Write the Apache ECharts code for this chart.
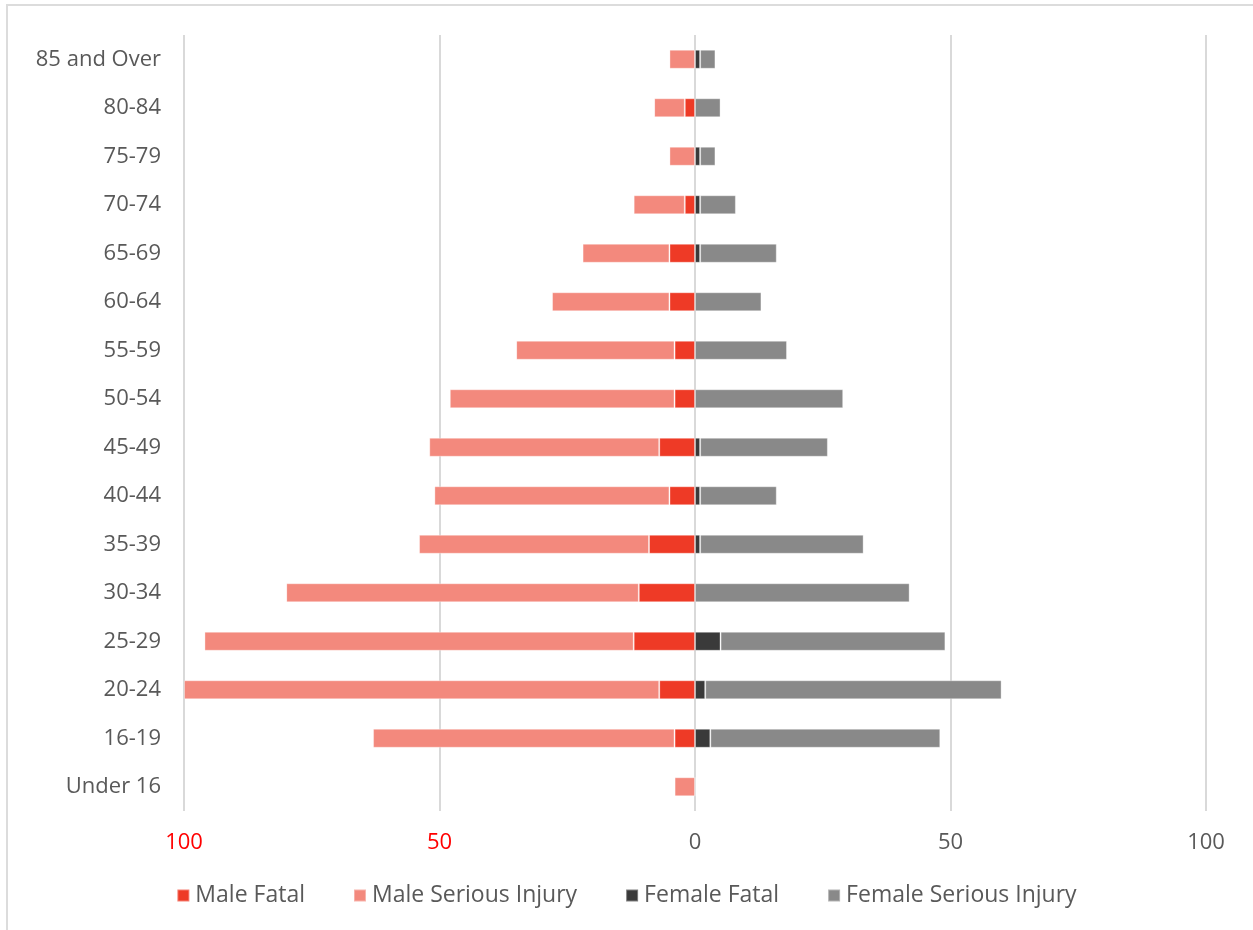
<!DOCTYPE html>
<html>
<head>
<meta charset="utf-8">
<script src="https://cdn.jsdelivr.net/npm/echarts@6/dist/echarts.min.js"></script>
<style>
  html, body { margin: 0; padding: 0; background: #fff; }
  #wrap { position: relative; width: 1253px; height: 930px; overflow: hidden; }
  #frame { position: absolute; left: 6px; top: 4px; width: 1260px; height: 940px;
           border-left: 2px solid #dcdcdc; border-top: 2px solid #dcdcdc; }
  #chart { position: absolute; left: 0; top: 0; width: 1253px; height: 930px; }
</style>
</head>
<body>
<div id="wrap">
  <div id="frame"></div>
  <div id="chart"></div>
</div>
<script>
// age groups, top to bottom as in the picture
var ageGroups = ['85 and Over', '80-84', '75-79', '70-74', '65-69', '60-64', '55-59', '50-54',
  '45-49', '40-44', '35-39', '30-34', '25-29', '20-24', '16-19', 'Under 16'];

// casualties per age group (male drawn to the left as negatives)
var maleFatal = [0, 2, 0, 2, 5, 5, 4, 4, 7, 5, 9, 11, 12, 7, 4, 0];
var maleSerious = [5, 6, 5, 10, 17, 23, 31, 44, 45, 46, 45, 69, 84, 93, 59, 4];
var femaleFatal = [1, 0, 1, 1, 1, 0, 0, 0, 1, 1, 1, 0, 5, 2, 3, 0];
var femaleSerious = [3, 5, 3, 7, 15, 13, 18, 29, 25, 15, 32, 42, 44, 58, 45, 0];

var xTicks = [-100, -50, 0, 50, 100];

var colors = {
  maleFatal: '#ee3a26',
  maleSerious: '#f3897d',
  femaleFatal: '#3a3a3a',
  femaleSerious: '#898989'
};

var font = '"Open Sans", "DejaVu Sans", sans-serif';

function neg(arr) {
  return arr.map(function (v) { return -v; });
}

function barSeries(name, data, color) {
  return {
    name: name,
    type: 'bar',
    stack: 'all',
    barWidth: 19,
    data: data,
    itemStyle: { color: color, borderColor: 'rgba(255,255,255,0.35)', borderWidth: 1 },
    emphasis: { disabled: true }
  };
}

var chart = echarts.init(document.getElementById('chart'));

chart.setOption({
  animation: false,
  textStyle: { fontFamily: font },
  grid: {
    left: 184,
    right: 47,
    top: 35,
    bottom: 119,
    containLabel: false
  },
  legend: {
    bottom: 18,
    left: 'center',
    itemWidth: 12,
    itemHeight: 12,
    itemGap: 48,
    icon: 'rect',
    textStyle: { fontSize: 23, color: '#595959', fontFamily: font, padding: [0, 0, 0, 1] },
    data: ['Male Fatal', 'Male Serious Injury', 'Female Fatal', 'Female Serious Injury']
  },
  xAxis: {
    type: 'value',
    min: xTicks[0],
    max: xTicks[xTicks.length - 1],
    interval: 50,
    axisLine: { show: false },
    axisTick: { show: false },
    splitLine: { show: true, lineStyle: { color: '#d9d9d9', width: 2 } },
    axisLabel: {
      fontSize: 22,
      margin: 21,
      fontFamily: font,
      formatter: function (v) { return Math.abs(v); },
      color: function (v) { return v < 0 ? '#ff0000' : '#595959'; }
    }
  },
  yAxis: {
    type: 'category',
    inverse: true,
    data: ageGroups,
    axisLine: { show: false },
    axisTick: { show: false },
    axisLabel: { fontSize: 22, color: '#595959', margin: 23, fontFamily: font }
  },
  series: [
    barSeries('Male Fatal', neg(maleFatal), colors.maleFatal),
    barSeries('Male Serious Injury', neg(maleSerious), colors.maleSerious),
    barSeries('Female Fatal', femaleFatal, colors.femaleFatal),
    barSeries('Female Serious Injury', femaleSerious, colors.femaleSerious)
  ]
});
</script>
</body>
</html>
